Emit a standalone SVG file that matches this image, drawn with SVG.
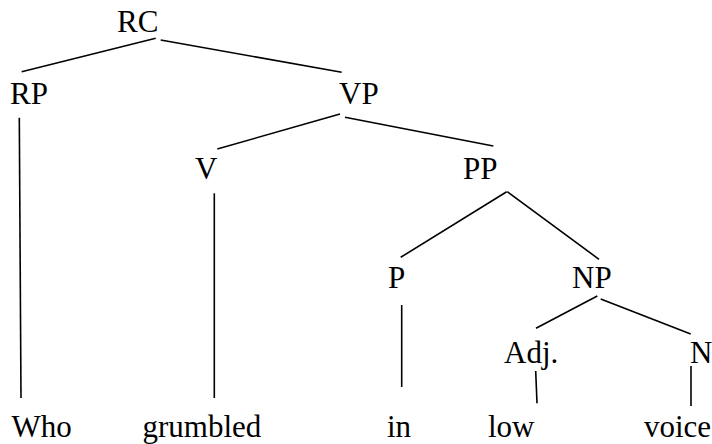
<svg xmlns="http://www.w3.org/2000/svg" width="712" height="444" viewBox="0 0 712 444">
<style>
line{stroke:#000;stroke-width:1.6;stroke-linecap:butt}
</style>
<rect width="712" height="444" fill="#fff"/>
<g id="connectors">
<line x1="155.7" y1="38.3" x2="21.7" y2="71.7"/>
<line x1="160.7" y1="40" x2="341.7" y2="72.3"/>
<line x1="19.3" y1="117.7" x2="21" y2="398"/>
<line x1="340" y1="114" x2="217.3" y2="149"/>
<line x1="345" y1="117.3" x2="493.3" y2="146"/>
<line x1="214.3" y1="193.3" x2="214.3" y2="398"/>
<line x1="506.7" y1="191.7" x2="400.7" y2="257.3"/>
<line x1="507.3" y1="191.7" x2="599" y2="259.3"/>
<line x1="401.7" y1="305" x2="401.7" y2="387"/>
<line x1="597.3" y1="296" x2="536" y2="328.3"/>
<line x1="600.7" y1="299" x2="690.7" y2="334"/>
<line x1="535.7" y1="371" x2="537" y2="403.3"/>
<line x1="691" y1="366" x2="691" y2="406"/>
</g>
<g font-family="Liberation Serif" font-size="31" fill="#000">
<g id="RC"><text x="117" y="32">RC</text></g>
<g id="RP"><text x="10" y="104">RP</text></g>
<g id="VP"><text x="339" y="104">VP</text></g>
<g id="V"><text x="195" y="179">V</text></g>
<g id="PP"><text x="463" y="179">PP</text></g>
<g id="P"><text x="388" y="288">P</text></g>
<g id="NP"><text x="572" y="288">NP</text></g>
<g id="Adj"><text x="504" y="363">Adj.</text></g>
<g id="N"><text x="690" y="363">N</text></g>
<g id="Who"><text x="11.5" y="437">Who</text></g>
<g id="grumbled"><text x="142.5" y="437">grumbled</text></g>
<g id="in"><text x="387" y="437">in</text></g>
<g id="low"><text x="488" y="437">low</text></g>
<g id="voice"><text x="644" y="437">voice</text></g>
</g>
</svg>
